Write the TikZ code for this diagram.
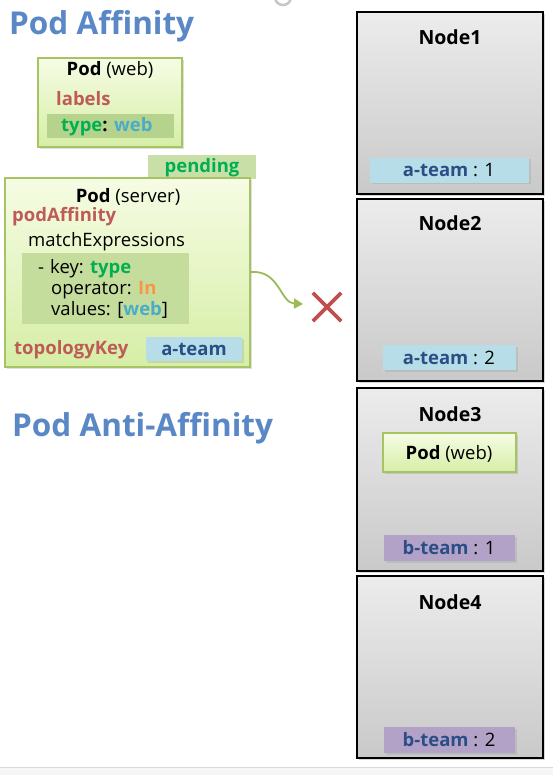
\documentclass[tikz,border=0pt]{standalone}
\usepackage{fontspec}
\setmainfont{Open Sans}
\usetikzlibrary{shadows,arrows.meta}
\definecolor{titleblue}{HTML}{5A87C5}
\definecolor{lblred}{HTML}{BE5B57}
\definecolor{keygreen}{HTML}{00B050}
\definecolor{valteal}{HTML}{4BACC6}
\definecolor{oporange}{HTML}{F79646}
\definecolor{teamblue}{HTML}{2A4E85}
\definecolor{bandblue}{HTML}{B7DEE8}
\definecolor{bandpurple}{HTML}{B3A2C7}
\definecolor{bandgreen}{HTML}{B5D38C}
\definecolor{bandgreenlt}{HTML}{C4DC9C}
\definecolor{pendband}{HTML}{C8E0A8}
\definecolor{podborder}{HTML}{A6C463}
\definecolor{podtop}{HTML}{F6FCE4}
\definecolor{podbot}{HTML}{D6EEA6}
\definecolor{nodetop}{HTML}{ECECEC}
\definecolor{nodebot}{HTML}{C9C9C9}
\definecolor{arrowgreen}{HTML}{9BBB59}
\definecolor{crossred}{HTML}{C0504D}
\tikzset{
  title/.style={anchor=base west, inner sep=0, text=titleblue, font=\fontsize{31.5}{31.5}\selectfont\bfseries},
  txt/.style={anchor=base west, inner sep=0, font=\fontsize{18.5}{18.5}\selectfont},
  ctxt/.style={anchor=base, inner sep=0, font=\fontsize{18.5}{18.5}\selectfont},
  ntitle/.style={anchor=base, inner sep=0, font=\fontsize{19.5}{19.5}\selectfont\bfseries},
  box/.style={anchor=north west, inner sep=0, outer sep=0},
  podbox/.style={box, draw=podborder, line width=1.6pt, top color=podtop, bottom color=podbot,
     drop shadow={shadow xshift=2pt, shadow yshift=-2pt, opacity=0.25}},
  nodebox/.style={box, draw=black, line width=1.8pt, top color=nodetop, bottom color=nodebot,
     drop shadow={shadow xshift=2pt, shadow yshift=-2pt, opacity=0.3}},
  band/.style={box, drop shadow={shadow xshift=1.5pt, shadow yshift=-1.5pt, opacity=0.2}},
}
\begin{document}
\begin{tikzpicture}[x=1pt,y=-1pt]
\useasboundingbox (0,0) rectangle (553,775);
\fill[white] (0,0) rectangle (553,775);
% faint artefacts
\draw[gray!45, line width=2.5pt] (283,-3) circle[radius=8];
\fill[gray!7] (0,767) rectangle (553,775);
\draw[gray!30, line width=0.8pt] (0,767) -- (553,767);

% titles
\node[title] (t1) at (9,35) {Pod Affinity};
\node[title] (t2) at (12,436) {Pod Anti-Affinity};

% Pod (web)
\node[podbox, minimum width=144pt, minimum height=89pt] (podweb) at (38,58) {};
\node[ctxt] (pw1) at (110,76) {\textbf{Pod} (web)};
\node[txt, text=lblred] (pw2) at (56,106) {\textbf{labels}};
\node[box, fill=bandgreen, minimum width=127pt, minimum height=24pt] (pwb) at (47,114) {};
\node[txt] (pw3) at (61,132) {\textbf{\color{keygreen}type}\textbf{:} \textbf{\color{valteal}web}};

% pending
\node[box, fill=pendband, minimum width=108pt, minimum height=24pt] (pend) at (148,155) {};
\node[ctxt, text=keygreen] (pendt) at (202,173) {\textbf{pending}};

% Pod (server)
\node[podbox, minimum width=245pt, minimum height=189pt] (podsrv) at (5,178) {};
\node[ctxt] (ps1) at (128,203) {\textbf{Pod} (server)};
\node[txt, text=lblred] (ps2) at (12,222) {\textbf{podAffinity}};
\node[txt] (ps3) at (28,247) {matchExpressions};
\node[box, fill=bandgreenlt, minimum width=167pt, minimum height=71pt] (psb) at (22,253) {};
\node[txt] (ps4) at (38,273) {-\hspace{6pt}key: \textbf{\color{keygreen}type}};
\node[txt] (ps5) at (51,294) {operator: \textbf{\color{oporange}In}};
\node[txt] (ps6) at (51,315) {values: [\textbf{\color{valteal}web}]};
\node[txt, text=lblred] (ps7) at (14,354) {\textbf{topologyKey}};
\node[band, fill=bandblue, minimum width=96pt, minimum height=24pt] (psab) at (146,337) {};
\node[ctxt, text=teamblue] (psat) at (194,355) {\textbf{a-team}};

% cross
\node[minimum size=28pt, inner sep=0] (cross) at (327,307) {};
\draw[crossred, line width=3.6pt] (cross.north west) -- (cross.south east);
\draw[crossred, line width=3.6pt] (cross.north east) -- (cross.south west);
\coordinate (arrstart) at (251,272);
\draw[arrowgreen, line width=1.8pt, -{Triangle[length=9pt,width=10pt]}]
  (arrstart) .. controls (280,270) and (280,303) .. (303,304);

% Nodes
\node[nodebox, minimum width=186pt, minimum height=182pt] (n1) at (357,12) {};
\node[nodebox, minimum width=186pt, minimum height=182pt] (n2) at (357,199) {};
\node[nodebox, minimum width=186pt, minimum height=183pt] (n3) at (357,388) {};
\node[nodebox, minimum width=186pt, minimum height=182pt] (n4) at (357,576) {};

\node[ntitle] (n1t) at (450,45) {Node1};
\node[ntitle] (n2t) at (450,231) {Node2};
\node[ntitle] (n3t) at (450,421) {Node3};
\node[ntitle] (n4t) at (450,609) {Node4};

\node[band, fill=bandblue, minimum width=159pt, minimum height=25pt] (n1b) at (370,158) {};
\node[ctxt] (n1l) at (449,177) {\textbf{\color{teamblue}a-team} : 1};
\node[band, fill=bandblue, minimum width=133pt, minimum height=25pt] (n2b) at (383,345) {};
\node[ctxt] (n2l) at (449,364) {\textbf{\color{teamblue}a-team} : 2};
\node[band, fill=bandpurple, minimum width=131pt, minimum height=26pt] (n3b) at (384,535) {};
\node[ctxt] (n3l) at (449,554) {\textbf{\color{teamblue}b-team} : 1};
\node[band, fill=bandpurple, minimum width=131pt, minimum height=26pt] (n4b) at (384,727) {};
\node[ctxt] (n4l) at (449,746) {\textbf{\color{teamblue}b-team} : 2};

\node[podbox, minimum width=133pt, minimum height=39pt] (n3pod) at (383,433) {};
\node[ctxt] (n3pt) at (449,459) {\textbf{Pod} (web)};
\end{tikzpicture}
\end{document}
